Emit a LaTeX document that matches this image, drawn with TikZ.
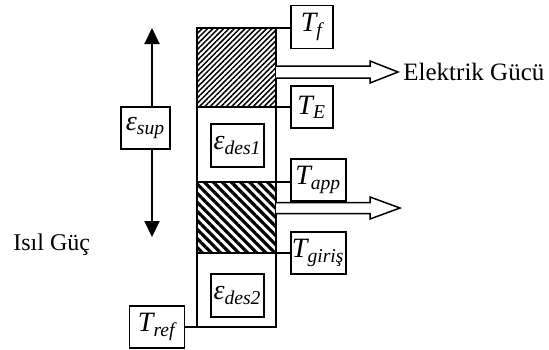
\documentclass[tikz,border=0pt]{standalone}
\usepackage{fontspec}
\setmainfont{Liberation Serif}
\usepackage{amsmath}
\usetikzlibrary{positioning, arrows.meta, patterns.meta, calc}

\begin{document}
\begin{tikzpicture}[
    x=0.5pt, y=-0.5pt,
    every node/.style={font=\fontsize{12}{14}\selectfont},
    tbox/.style={draw, line width=0.75pt, inner sep=0pt, minimum width=21pt, minimum height=21pt, font=\fontsize{14}{16}\selectfont\itshape},
    ebox/.style={tbox, minimum width=26.5pt},
    layer/.style={draw, line width=1pt, inner sep=0pt, outer sep=0pt, minimum width=39.5pt, anchor=north west},
    link/.style={line width=0.75pt},
    power/.style={draw, line width=0.75pt, fill=white},
    >={Triangle[length=8pt,width=7.5pt]},
  ]
  \useasboundingbox (0,0) rectangle (549,349);

  % column layers
  \node[layer, minimum height=39.5pt, pattern={Lines[angle=45,distance=1.9pt,line width=0.75pt]}] (hot) at (197,28) {};
  \node[layer, minimum height=37.5pt] (mid) at (197,107) {};
  \node[layer, minimum height=35.5pt, pattern={Lines[angle=-45,distance=3.2pt,line width=1.6pt]}] (cold) at (197,182) {};
  \node[layer, minimum height=37pt] (base) at (197,253) {};

  \node[ebox, minimum height=21.5pt] (des1) at (237.5,145.5) {ε$_{\textit{des1}}$};
  \node[ebox, minimum height=21.5pt] (des2) at (237.5,295.5) {ε$_{\textit{des2}}$};

  % temperatures
  \node[tbox, minimum height=21.5pt, anchor=west] (Tf) at (290,27) {T$_{\textit{f}}$};
  \node[tbox, anchor=west] (TE) at (290,107) {T$_{\textit{E}}$};
  \node[tbox, minimum width=27.5pt, anchor=west] (Tapp) at (290,180) {T$_{\textit{app}}$};
  \node[tbox, minimum width=27.5pt, anchor=west] (Tgir) at (290,253) {T$_{\textit{giriş}}$};
  \node[tbox, minimum width=27.5pt, anchor=east] (Tref) at (185,327) {T$_{\textit{ref}}$};
  \draw[link] (hot.north east) -- (hot.north east -| Tf.west);
  \draw[link] (mid.north east) -- (mid.north east -| TE.west);
  \draw[link] (cold.north east) -- (cold.north east -| Tapp.west);
  \draw[link] (base.north east) -- (base.north east -| Tgir.west);
  \draw[link] (base.south west) -- (base.south west -| Tref.east);

  % heat flow
  \node[tbox, minimum width=24.5pt] (esup) at (145.5,128) {ε$_{\textit{sup}}$};
  \coordinate (up) at (152,28);
  \coordinate (down) at (152,237);
  \draw[->, line width=1pt] (esup.north -| up) -- (up);
  \draw[->, line width=1pt] (esup.south -| up) -- (down);
  \node[inner sep=0pt, anchor=west] (heat) at (13,245) {Isıl Güç};

  % power out
  \node[inner sep=0pt, anchor=west, font=\fontsize{12.5}{14}\selectfont] (elec) at (403,72) {Elektrik Gücü};
  \coordinate (out) at (400,208);
  \draw[power] (hot.east |- elec.west) ++(0,-6) -- ++(94,0) -- ++(0,-5) -- ++(28,11) -- ++(-28,11) -- ++(0,-5) -- ++(-94,0);
  \draw[power] (cold.east |- out) ++(0,-5.5) -- ++(94,0) -- ++(0,-5.5) -- ++(30,11) -- ++(-30,11) -- ++(0,-5.5) -- ++(-94,0);
\end{tikzpicture}
\end{document}
